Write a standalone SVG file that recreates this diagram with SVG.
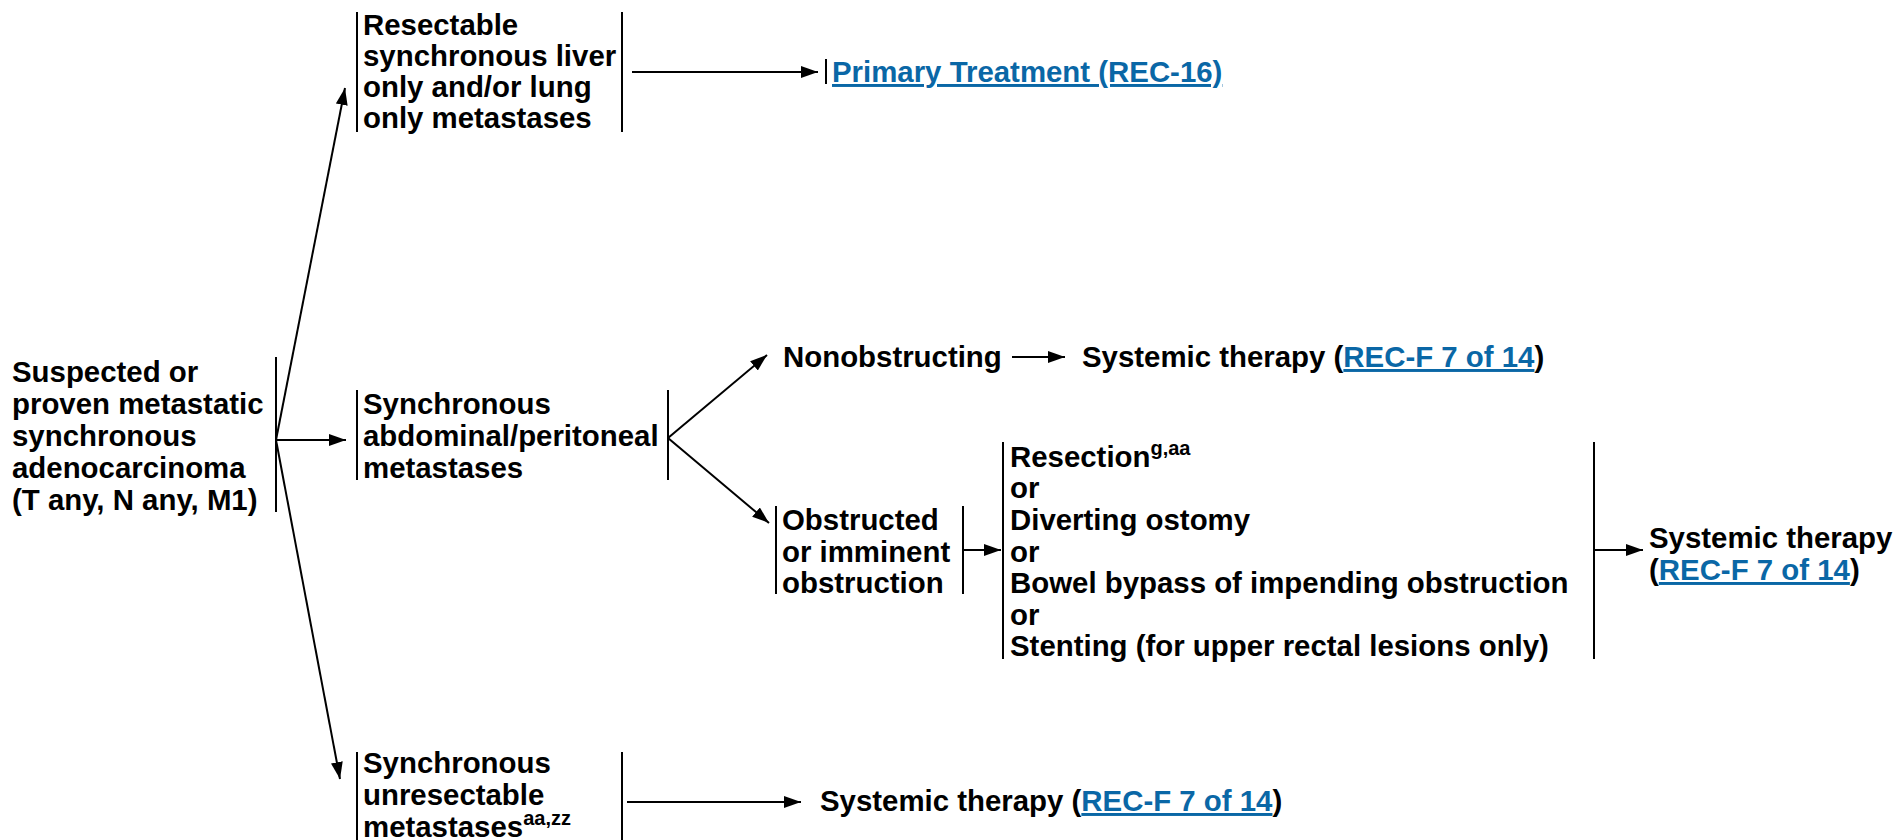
<svg xmlns="http://www.w3.org/2000/svg" width="1894" height="840" viewBox="0 0 1894 840">
<style>
text{font-family:"Liberation Sans",Arial,sans-serif;font-weight:bold;font-size:29.4px;fill:#000}
.lk{fill:#0a67a6;text-decoration:underline}
.sup{font-size:20px}
.bar{stroke:#000;stroke-width:2;fill:none}
.con line{stroke:#000;stroke-width:2;fill:none}
</style>
<defs>
<marker id="ah" markerUnits="userSpaceOnUse" markerWidth="17" markerHeight="12" refX="17" refY="6" orient="auto">
<path d="M0,0 L17,6 L0,12 z" fill="#000"/>
</marker>
</defs>
<rect width="1894" height="840" fill="#fff"/>

<g id="source">
<text><tspan x="12" y="382">Suspected or</tspan><tspan x="12" y="414">proven metastatic</tspan><tspan x="12" y="446">synchronous</tspan><tspan x="12" y="478">adenocarcinoma</tspan><tspan x="12" y="510">(T any, N any, M1)</tspan></text>
<line class="bar" x1="276" y1="357" x2="276" y2="512"/>
</g>

<g id="resectable">
<line class="bar" x1="357" y1="12" x2="357" y2="132"/>
<text><tspan x="363" y="35">Resectable</tspan><tspan x="363" y="66">synchronous liver</tspan><tspan x="363" y="97">only and/or lung</tspan><tspan x="363" y="128">only metastases</tspan></text>
<line class="bar" x1="622" y1="12" x2="622" y2="132"/>
</g>

<g id="primary">
<line class="bar" x1="826" y1="59" x2="826" y2="84"/>
<text x="832" y="82" class="lk">Primary Treatment (REC-16)</text>
</g>

<g id="abdominal">
<line class="bar" x1="357" y1="390" x2="357" y2="480"/>
<text><tspan x="363" y="414">Synchronous</tspan><tspan x="363" y="446">abdominal/peritoneal</tspan><tspan x="363" y="478">metastases</tspan></text>
<line class="bar" x1="668" y1="390" x2="668" y2="480"/>
</g>

<g id="nonobstructing">
<text x="783" y="367">Nonobstructing</text>
</g>

<g id="systemic1">
<text x="1082" y="367">Systemic therapy (<tspan class="lk">REC-F 7 of 14</tspan>)</text>
</g>

<g id="obstructed">
<line class="bar" x1="776" y1="506" x2="776" y2="594"/>
<text><tspan x="782" y="530">Obstructed</tspan><tspan x="782" y="562">or imminent</tspan><tspan x="782" y="593">obstruction</tspan></text>
<line class="bar" x1="963" y1="506" x2="963" y2="594"/>
</g>

<g id="options">
<line class="bar" x1="1003" y1="442" x2="1003" y2="659"/>
<text><tspan x="1010" y="467">Resection<tspan class="sup" dy="-12">g,aa</tspan></tspan><tspan x="1010" y="498">or</tspan><tspan x="1010" y="530">Diverting ostomy</tspan><tspan x="1010" y="562">or</tspan><tspan x="1010" y="593">Bowel bypass of impending obstruction</tspan><tspan x="1010" y="625">or</tspan><tspan x="1010" y="656">Stenting (for upper rectal lesions only)</tspan></text>
<line class="bar" x1="1594" y1="442" x2="1594" y2="659"/>
</g>

<g id="systemic2">
<text><tspan x="1649" y="548">Systemic therapy</tspan><tspan x="1649" y="580">(<tspan class="lk">REC-F 7 of 14</tspan>)</tspan></text>
</g>

<g id="unresectable">
<line class="bar" x1="357" y1="752" x2="357" y2="840"/>
<text><tspan x="363" y="773">Synchronous</tspan><tspan x="363" y="805">unresectable</tspan><tspan x="363" y="837">metastases<tspan class="sup" dy="-12">aa,zz</tspan></tspan></text>
<line class="bar" x1="622" y1="752" x2="622" y2="840"/>
</g>

<g id="systemic3">
<text x="820" y="811">Systemic therapy (<tspan class="lk">REC-F 7 of 14</tspan>)</text>
</g>

<g id="connectors" class="con">
<line x1="276" y1="440" x2="345" y2="88" marker-end="url(#ah)"/>
<line x1="276" y1="440" x2="346" y2="440" marker-end="url(#ah)"/>
<line x1="276" y1="440" x2="340" y2="779" marker-end="url(#ah)"/>
<line x1="632" y1="72" x2="818" y2="72" marker-end="url(#ah)"/>
<line x1="668" y1="438" x2="767" y2="355" marker-end="url(#ah)"/>
<line x1="668" y1="438" x2="769" y2="523" marker-end="url(#ah)"/>
<line x1="1012" y1="357" x2="1065" y2="357" marker-end="url(#ah)"/>
<line x1="963" y1="550" x2="1001" y2="550" marker-end="url(#ah)"/>
<line x1="1594" y1="550" x2="1643" y2="550" marker-end="url(#ah)"/>
<line x1="627" y1="802" x2="801" y2="802" marker-end="url(#ah)"/>
</g>
</svg>
